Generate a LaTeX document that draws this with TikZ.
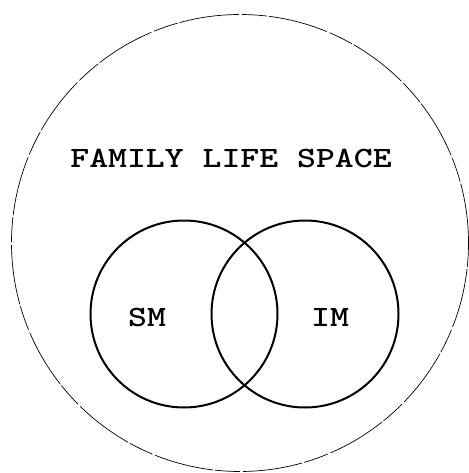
\documentclass[tikz,border=0pt]{standalone}
\usepackage{tikz}
\usetikzlibrary{positioning}
\tikzset{
  space/.style={draw,circle,line width=0.7pt,dash pattern=on 60pt off 2pt on 25pt off 3pt,inner sep=0pt},
  venn/.style={draw,circle,line width=2pt,inner sep=0pt,minimum size=187pt},
  lbl/.style={font=\fontsize{36}{40}\ttfamily\bfseries,inner sep=0pt},
}
\newcommand{\squash}[1]{\scalebox{1}[0.82]{#1}}
\begin{document}
\begin{tikzpicture}[x=1pt,y=-1pt]
  \useasboundingbox (0,0) rectangle (468,473);
  \node[space,minimum size=457pt] (fls) at (240,243) {};
  \node[lbl] (title) at (231,158) {\squash{FAMILY LIFE SPACE}};
  \node[venn] (sm) at (184,314) {};
  \node[venn] (im) at (305,314) {};
  \node[lbl] (smlbl) at (147,317) {\squash{SM}};
  \node[lbl] (imlbl) at (330,317) {\squash{IM}};
\end{tikzpicture}
\end{document}
